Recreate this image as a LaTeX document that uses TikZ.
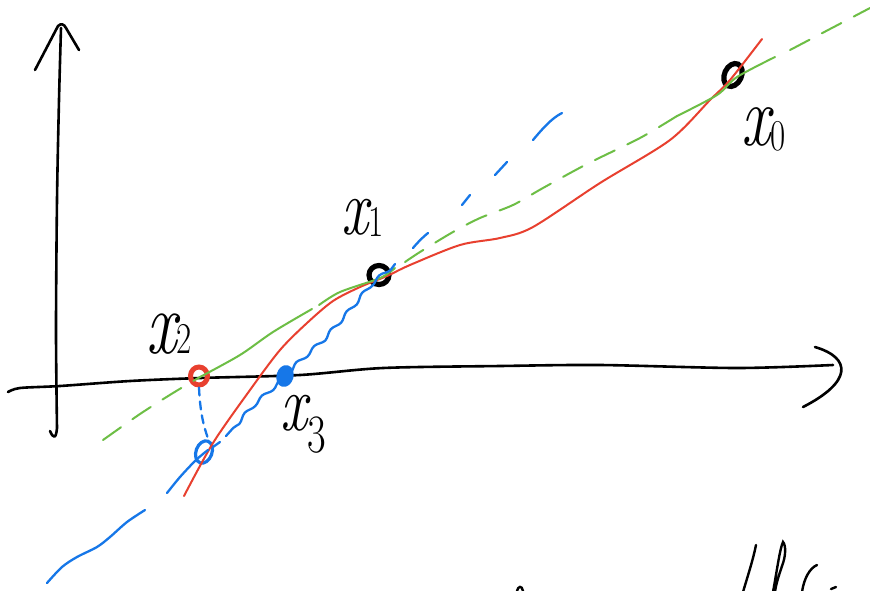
\documentclass[tikz,border=0pt]{standalone}
\usetikzlibrary{shapes.geometric,decorations.pathmorphing}
\definecolor{fred}{HTML}{E8402F}
\definecolor{fgreen}{HTML}{6DBE45}
\definecolor{fblue}{HTML}{1677E8}
\begin{document}
\begin{tikzpicture}[x=1pt,y=-1pt,
  ax/.style={black,line width=2.6pt,line cap=round,line join=round},
  fcurve/.style={fred,line width=2pt,line cap=round},
  gline/.style={fgreen,line width=2pt,line cap=round},
  gdash/.style={gline,dash pattern=on 22pt off 14pt},
  bline/.style={fblue,line width=2.3pt,line cap=round,line join=round},
  bdash/.style={bline,dash pattern=on 8pt off 6pt},
  wavy/.style={decorate,decoration={snake,amplitude=1.7pt,segment length=24pt}},
  ring/.style={ellipse,draw,inner sep=0pt},
  lbl/.style={inner sep=0pt,anchor=base west,xscale=0.75},
  ink/.style={black,line width=2.4pt,line cap=round}
]
\useasboundingbox (0,0) rectangle (870,590);
\fill[white] (0,0) rectangle (870,590);

% axes
\draw[ax] (50,431) .. controls (53,438) and (56,440) .. (57,428)
  plot[smooth] coordinates {(57,428) (56,330) (57,200) (59,100) (61,28)};
\draw[ax] (35,70) -- (58,26) .. controls (61,23) and (64,24) .. (66,28) -- (79,50);
\draw[ax] plot[smooth] coordinates {(8,392) (20,388) (60,386) (130,381) (200,378) (300,375) (383,368) (500,366) (600,365) (737,368) (833,365)};
\draw[ax] (815,347) .. controls (852,358) and (852,382) .. (803,407);

% points (rings)
\node[ring,black,line width=5.2pt,minimum width=17pt,minimum height=24pt,rotate=-25] (p0) at (733,75) {};
\node[ring,black,line width=5.2pt,minimum width=20pt,minimum height=19pt] (p1) at (379,275) {};
\node[ring,fred,line width=5pt,minimum width=17pt,minimum height=18pt] (p2) at (199,376) {};
\node[ring,fblue,line width=5pt,fill=fblue,minimum width=12pt,minimum height=17pt,rotate=-15] (p3) at (285,376) {};
\node[ring,fblue,line width=3.2pt,minimum width=16pt,minimum height=23pt,rotate=-20] (q2) at (204,452) {};

% function
\draw[fcurve] plot[smooth] coordinates {(184,496) (213,443) (250,390) (280,350) (307,323) (333,301) (360,287) (387,276) (410,265) (460,245) (500,238) (533,227) (600,183) (670,140) (710,100) (730,80) (762,39)};

% green secant through x0, x1
\draw[gdash] plot[smooth] coordinates {(103,440) (140,414) (173,393) (200,377)};
\draw[gline] plot[smooth] coordinates {(200,377) (240,355) (273,332) (312,309)};
\draw[gline] plot[smooth] coordinates {(319,305) (340,292) (380,278) (395,268)};
\draw[gdash] plot[smooth] coordinates {(405,262) (420,252) (453,232) (480,218) (513,205) (543,188) (587,164) (640,138) (677,116)};
\draw[gline] plot[smooth] coordinates {(677,116) (717,95) (737,77) (775,57)};
\draw[gdash] plot[smooth] coordinates {(790,50) (830,29) (870,8)};

% blue secant through x1 and (x2, f(x2))
\draw[bline] (413,248) .. controls (418,242) and (423,237) .. (428,233);
\draw[bline] (462,205) -- (470,195);
\draw[bline] (495,175) -- (507,162);
\draw[bline] (533,140) .. controls (543,128) and (552,118) .. (562,113);
\draw[bline,wavy] (395,264) -- (373,283) -- (353,307) -- (330,333) -- (300,360) -- (285,376) -- (258,400) -- (226,436);
\draw[bline] (213,447) -- (220,442);
\draw[bline] plot[smooth] coordinates {(208,450) (196,460) (180,477) (167,493)};
\draw[bline] plot[smooth] coordinates {(145,510) (127,522) (110,537) (97,547) (77,557) (62,567) (47,583)};
\draw[bdash] (p2.south) .. controls (200,410) and (203,425) .. (q2.north);

% labels
\node[lbl] (l0) at (741,145) {\fontsize{86}{86}\selectfont\itshape x\fontsize{44}{44}\selectfont\upshape\raisebox{-5pt}{0}};
\node[lbl] (l1) at (341,234) {\fontsize{80}{80}\selectfont\itshape x\fontsize{44}{44}\selectfont\upshape\raisebox{-2pt}{1}};
\node[lbl] (l2) at (146,353) {\fontsize{90}{90}\selectfont\itshape x\fontsize{44}{44}\selectfont\upshape\raisebox{0pt}{2}};
\node[lbl] (l3) at (280,430) {\fontsize{80}{80}\selectfont\itshape x\fontsize{54}{54}\selectfont\upshape\raisebox{-22pt}{3}};

% cut-off handwriting at the bottom edge
\draw[ink] (517,591) .. controls (518,586) and (522,585) .. (523,591);
\draw[ink] (743,592) .. controls (748,575) and (753,560) .. (756,545);
\draw[ink] (773,592) .. controls (777,570) and (780,548) .. (783,542) .. controls (786,545) and (786,556) .. (782,566) .. controls (779,575) and (776,584) .. (775,592);
\draw[ink] (817,565) .. controls (810,568) and (804,578) .. (802,592);
\draw[ink] (831,589) -- (836,587);
\end{tikzpicture}
\end{document}
